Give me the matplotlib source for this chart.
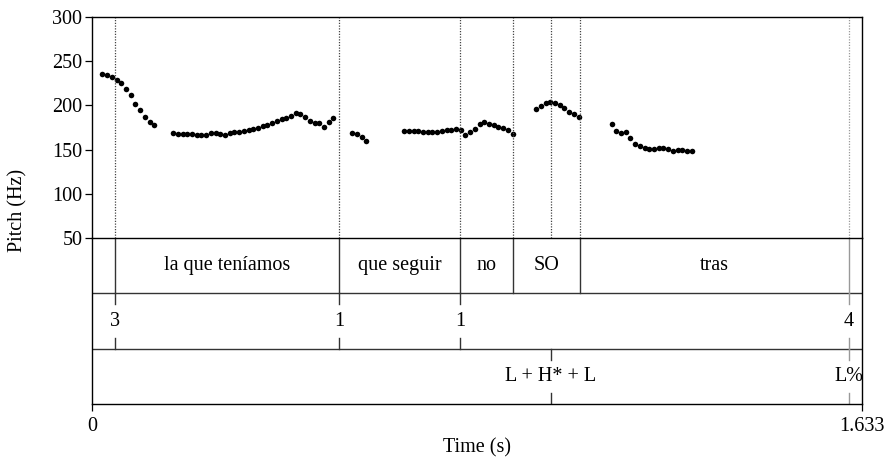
import matplotlib
matplotlib.use("Agg")
import matplotlib.pyplot as plt
import numpy as np

plt.rcParams["font.family"] = ["Liberation Serif", "DejaVu Serif"]

# pitch contour, Praat frames of 0.01 s; each voiced stretch has a start time
frame_step = 0.01
seg_starts = [0.022, 0.172, 0.552, 0.662, 0.942, 1.102]
seg_values = [
    [235.9, 234.4, 231.7, 229.1, 225.0, 218.2, 211.4, 201.6, 194.4, 187.3, 181.6, 177.8],
    [168.4, 168.0, 167.6, 167.6, 167.6, 166.1, 166.1, 166.9, 168.4, 168.4, 168.0, 166.9,
     169.2, 169.9, 170.3, 170.7, 171.8, 172.9, 174.4, 176.7, 178.2, 180.1, 182.7, 184.6,
     185.4, 188.0, 191.8, 190.3, 187.3, 182.7, 180.5, 180.1, 175.9, 181.2, 185.7],
    [168.8, 168.0, 164.3, 159.4],
    [171.4, 171.4, 171.4, 171.0, 170.3, 169.5, 169.9, 170.3, 171.0, 171.8, 172.5, 172.9,
     172.5, 166.9, 170.0, 173.7, 179.3, 180.7, 179.3, 177.3, 175.6, 174.1, 172.2, 167.3],
    [195.6, 199.7, 202.3, 203.8, 203.1, 200.8, 197.1, 192.5, 189.9, 186.5],
    [178.6, 171.0, 168.8, 169.5, 163.1, 156.7, 153.7, 151.4, 150.3, 150.3, 151.4, 151.4,
     150.3, 148.4, 149.5, 149.5, 148.8, 148.4],
]

t_end = 1.633

# tier 1: words (interval tier)
word_bounds = [0.0, 0.049, 0.524, 0.780, 0.893, 1.035, 1.605, t_end]
words = ["", "la que teníamos", "que seguir", "no", "SO", "tras", ""]

# tier 2: break indices (point tier)
break_times = [0.049, 0.524, 0.780, 1.605]
break_labels = ["3", "1", "1", "4"]

# tier 3: tones (point tier)
tone_times = [0.973, 1.605]
tone_labels = ["L + H* + L", "L%"]

pitch_ticks = [50, 100, 150, 200, 250, 300]

W, H = 889, 461
fig = plt.figure(figsize=(W / 100, H / 100), dpi=100)
x0, x1 = 92, 862
y_top, y_mid, y_bot = 17, 238, 404
ax = fig.add_axes([x0 / W, 1 - y_mid / H, (x1 - x0) / W, (y_mid - y_top) / H])
tx = fig.add_axes([x0 / W, 1 - y_bot / H, (x1 - x0) / W, (y_bot - y_mid) / H])

FS = 14.5
dark = "#333333"
pale = "#999999"

# pitch dots
for start, vals in zip(seg_starts, seg_values):
    t = start + frame_step * np.arange(len(vals))
    ax.plot(t, vals, "o", color="black", ms=4.0, mec="none")

ax.set_xlim(0, t_end)
ax.set_ylim(50, 300)
ax.set_yticks(pitch_ticks)
ax.set_yticklabels([str(v) for v in pitch_ticks], fontsize=FS)
ax.tick_params(axis="y", direction="out", length=5, width=0.9, pad=2)
ax.set_xticks([])
ax.spines["bottom"].set_visible(False)
for s in ["left", "top", "right"]:
    ax.spines[s].set_linewidth(1.0)

# dotted boundary lines through the pitch area
all_marks = sorted(set(word_bounds[1:-1]) | set(break_times) | set(tone_times))
for b in all_marks:
    c = pale if b == 1.605 else "#444444"
    ax.axvline(b, color=c, ls=(0, (1, 1.2)), lw=0.9)

# tiers
tx.set_xlim(0, t_end)
tx.set_ylim(0, 3)
tx.set_yticks([])
for s in ["left", "top", "right", "bottom"]:
    tx.spines[s].set_linewidth(1.0)
tx.axhline(1, color=dark, lw=1.0)
tx.axhline(2, color=dark, lw=1.0)

for b in word_bounds[1:-1]:
    c = pale if b == 1.605 else dark
    tx.plot([b, b], [2, 3], color=c, lw=1.0)
for a, b, w in zip(word_bounds[:-1], word_bounds[1:], words):
    if w:
        tx.text((a + b) / 2, 2.5, w, ha="center", va="center", fontsize=FS)


def point_tier(times, labels, base):
    for t, lab in zip(times, labels):
        c = pale if t == 1.605 else dark
        tx.plot([t, t], [base + 0.8, base + 1], color=c, lw=1.0)
        tx.plot([t, t], [base, base + 0.2], color=c, lw=1.0)
        tx.text(t, base + 0.5, lab, ha="center", va="center", fontsize=FS)


point_tier(break_times, break_labels, 1)
point_tier(tone_times, tone_labels, 0)

tx.set_xticks([0, t_end])
tx.set_xticklabels(["0", "1.633"], fontsize=FS)
tx.tick_params(axis="x", direction="out", length=5, width=0.9, pad=4)
tx.set_xlabel("Time (s)", fontsize=FS, labelpad=2)

fig.text(18 / W, 1 - 210 / H, "Pitch (Hz)", rotation=90, ha="center", va="center", fontsize=FS)

fig.savefig("out.png", dpi=100)
